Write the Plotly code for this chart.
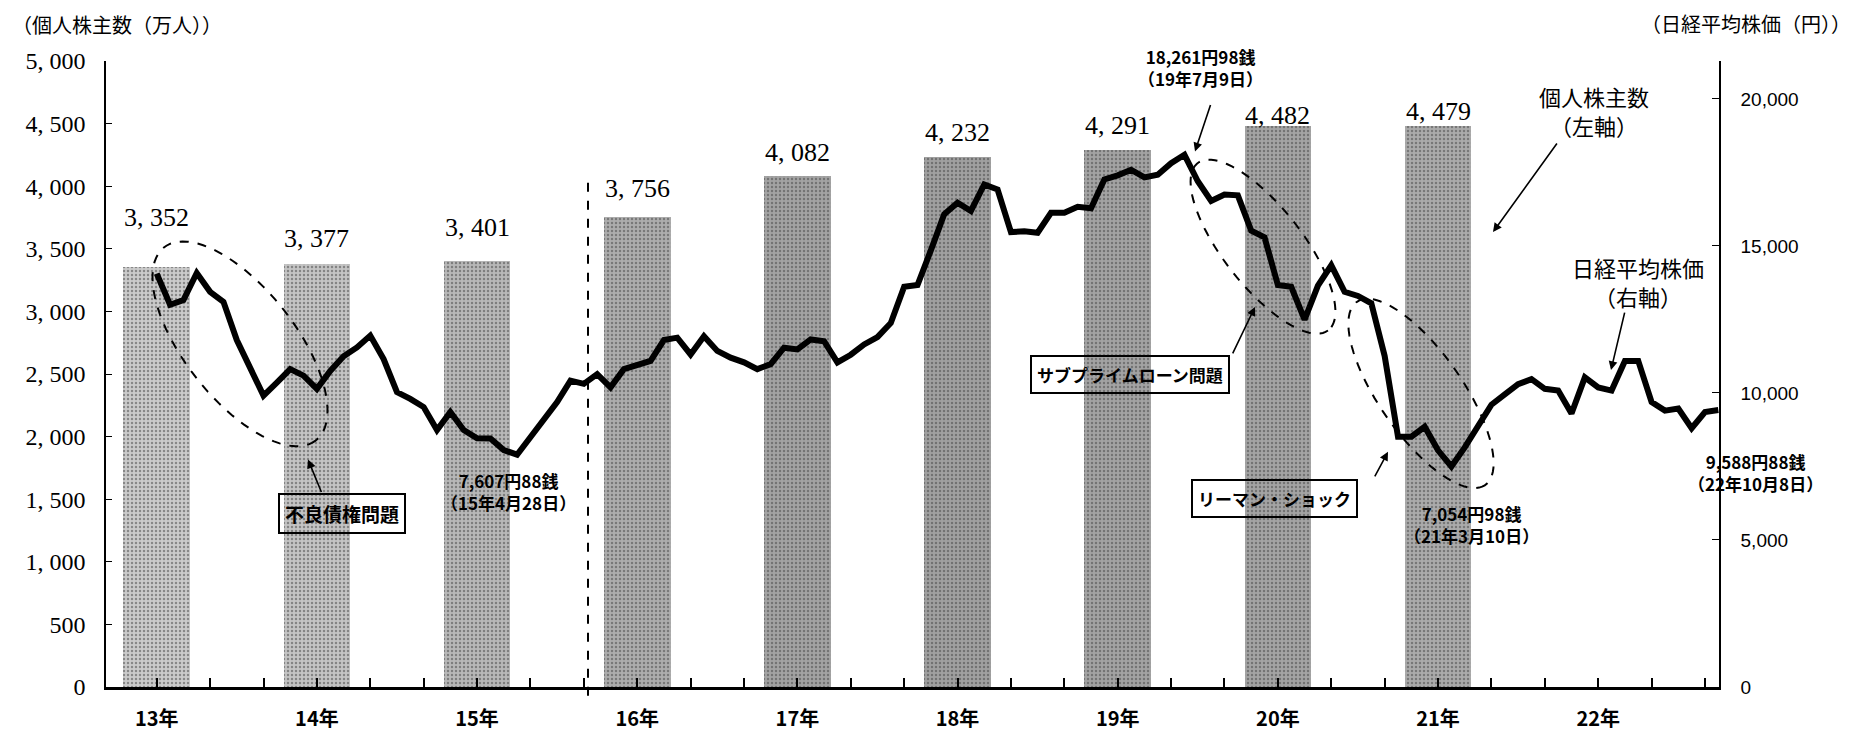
import numpy as np
import plotly.graph_objects as go

# ---------------- data ----------------
year_labels = ["13年", "14年", "15年", "16年", "17年", "18年", "19年", "20年", "21年", "22年"]
shareholders = [3352, 3377, 3401, 3756, 4082, 4232, 4291, 4482, 4479]          # 万人 (left axis)
shareholder_text = ["3, 352", "3, 377", "3, 401", "3, 756", "4, 082", "4, 232", "4, 291", "4, 482", "4, 479"]

# Nikkei average, month-end (yen), Jan .. Dec of each year (right axis)
nikkei_h13 = [14060, 13000, 13160, 14080, 13440, 13100, 11800, 10800, 9910, 10350, 10810, 10590]
nikkei_h14 = [10140, 10750, 11250, 11550, 11950, 11150, 10030, 9800, 9520, 8740, 9350, 8740]
nikkei_h15 = [8460, 8450, 8060, 7900, 8500, 9130, 9690, 10420, 10310, 10640, 10190, 10810]
nikkei_h16 = [10950, 11090, 11800, 11880, 11310, 11930, 11430, 11200, 11040, 10810, 10980, 11540]
nikkei_h17 = [11480, 11820, 11760, 11040, 11300, 11650, 11900, 12380, 13610, 13670, 14850, 16080]
nikkei_h18 = [16470, 16190, 17090, 16920, 15470, 15500, 15450, 16130, 16130, 16330, 16280, 17260]
nikkei_h19 = [17400, 17590, 17330, 17420, 17815, 18100, 17200, 16530, 16750, 16720, 15520, 15290]
nikkei_h20 = [13670, 13610, 12490, 13650, 14340, 13440, 13300, 13050, 11260, 8510, 8510, 8850]
nikkei_h21 = [8050, 7500, 8150, 8900, 9600, 9950, 10300, 10470, 10140, 10080, 9300, 10530]
nikkei_h22 = [10190, 10080, 11090, 11090, 9690, 9400, 9470, 8800, 9350, 9420]

nikkei = (nikkei_h13 + nikkei_h14 + nikkei_h15 + nikkei_h16 + nikkei_h17 +
          nikkei_h18 + nikkei_h19 + nikkei_h20 + nikkei_h21 + nikkei_h22)
months = list(range(len(nikkei)))                 # 0 = 13年1月
bar_x = [12 * i for i in range(len(shareholders))]
tick_x = [12 * i for i in range(len(year_labels))]

left_ticks = list(range(0, 5001, 500))
left_ticktext = [f"{v:,}".replace(",", ", ") for v in left_ticks]
right_ticks = [0, 5000, 10000, 15000, 20000]
right_ticktext = [f"{v:,}" for v in right_ticks]

# ---------------- layout geometry (pixels) ----------------
W, H = 1850, 736
L, R, T, B = 98, 1711, 53, 697
XMIN, XMAX = -3.8, 117.05
Y2MAX = 20000 * (B - T) / (B - 92)

bar_colors = ["#cbcbcb", "#c4c4c4", "#b8b8b8", "#adadad", "#a3a3a3",
              "#a0a0a0", "#a3a3a3", "#a4a4a4", "#ababab"]
label_gap_px = [50, 26, 34, 28, 23, 25, 24, 10, 15]   # label centre above bar top


def px2paper(px, py):
    return (px - L) / (R - L), (B - py) / (B - T)


def ellipse_path(cx, cy, a, b, theta_deg, n=90):
    th = np.deg2rad(theta_deg)
    t = np.linspace(0, 2 * np.pi, n)
    xs = cx + a * np.cos(t) * np.cos(th) - b * np.sin(t) * np.sin(th)
    ys = cy + a * np.cos(t) * np.sin(th) + b * np.sin(t) * np.cos(th)
    pts = [px2paper(x, y) for x, y in zip(xs, ys)]
    return "M " + " L ".join(f"{x:.5f},{y:.5f}" for x, y in pts) + " Z"


JP = "Noto Sans CJK JP"

fig = go.Figure()

fig.add_trace(go.Bar(
    x=bar_x, y=shareholders, width=5, yaxis="y",
    marker=dict(color=bar_colors, line=dict(width=0),
                pattern=dict(shape=".", fgcolor="#3a3a3a", size=4, solidity=0.3, fillmode="overlay")),
    showlegend=False, hoverinfo="skip",
))

fig.add_trace(go.Scatter(
    x=months, y=nikkei, yaxis="y2", mode="lines",
    line=dict(color="black", width=6),
    showlegend=False, hoverinfo="skip", cliponaxis=False,
))

annotations = []

# bar value labels
for xv, yv, txt_, gap in zip(bar_x, shareholders, shareholder_text, label_gap_px):
    annotations.append(dict(x=xv, xref="x", y=yv, yref="y", yshift=gap,
                            text=txt_, showarrow=False, yanchor="middle",
                            font=dict(family="Liberation Serif", size=26, color="black")))


def txt(px, py, text, size=16, bold=True, anchor="center", family=JP):
    xp, yp = px2paper(px, py)
    annotations.append(dict(x=xp, y=yp, xref="paper", yref="paper", text=text,
                            showarrow=False, xanchor=anchor, yanchor="middle",
                            font=dict(family=family, size=size, color="black",
                                      weight="bold" if bold else "normal")))


def box(px, py, text, size=18):
    xp, yp = px2paper(px, py)
    annotations.append(dict(x=xp, y=yp, xref="paper", yref="paper", text=text,
                            showarrow=False, xanchor="center", yanchor="middle",
                            bordercolor="black", borderwidth=2, borderpad=5, bgcolor="rgba(255,255,255,0)",
                            font=dict(family=JP, size=size, color="black", weight="bold")))


def arrow(tx, ty, hx, hy):
    xp, yp = px2paper(hx, hy)
    annotations.append(dict(x=xp, y=yp, xref="paper", yref="paper", text="",
                            showarrow=True, ax=tx - hx, ay=ty - hy,
                            arrowhead=2, arrowsize=1.1, arrowwidth=1.6, arrowcolor="black", standoff=0))


# titles
txt(2, 15, "（個人株主数（万人））", size=20, bold=False, anchor="left")
txt(1845, 14, "（日経平均株価（円））", size=20, bold=False, anchor="right")

# value callouts
txt(1192, 60, "18,261円98銭<br>（19年7月9日）", size=17)
txt(500, 496, "7,607円88銭<br>（15年4月28日）", size=17)
txt(1463, 530, "7,054円98銭<br>（21年3月10日）", size=17)
txt(1747, 476, "9,588円88銭<br>（22年10月8日）", size=17)

# series captions
txt(1586, 104, "個人株主数<br>（左軸）", size=22, bold=False)
txt(1630, 280, "日経平均株価<br>（右軸）", size=22, bold=False)

# event boxes
box(334, 519, "不良債権問題", size=19)
box(1122, 375, "サブプライムローン問題", size=17)
box(1266, 503, "リーマン・ショック", size=17)

# arrows
arrow(314, 497, 300, 463)
arrow(1203, 98, 1187, 146)
arrow(1224, 354, 1247, 306)
arrow(1366, 481, 1380, 455)
arrow(1550, 139, 1485, 229)
arrow(1617, 312, 1603, 371)

shapes = []
for cx, cy, a, b, th in [(232, 344, 125, 56, 53), (1255, 244, 108, 40, 53), (1413, 395, 114, 42, 56)]:
    shapes.append(dict(type="path", path=ellipse_path(cx, cy, a, b, th), xref="paper", yref="paper",
                       line=dict(color="black", width=2, dash="dash"), layer="above"))

# dashed separator line
x_sep = XMIN + (580 - L) / (R - L) * (XMAX - XMIN)
shapes.append(dict(type="line", xref="x", yref="paper", x0=x_sep, x1=x_sep,
                   y0=px2paper(0, 706)[1], y1=px2paper(0, 173)[1],
                   line=dict(color="black", width=2, dash="dash")))

fig.update_layout(
    width=W, height=H,
    margin=dict(l=L, r=W - R, t=T, b=H - B, pad=0),
    paper_bgcolor="white", plot_bgcolor="white",
    bargap=0, showlegend=False,
    annotations=annotations, shapes=shapes,
    xaxis=dict(range=[XMIN, XMAX], tickmode="array", tickvals=tick_x, ticktext=year_labels,
               ticks="inside", ticklen=9, tickwidth=1.5, tickcolor="black",
               minor=dict(tickmode="linear", tick0=0, dtick=4, ticks="inside", ticklen=9,
                          tickwidth=1.5, tickcolor="black"),
               showline=True, linecolor="black", linewidth=2.5, showgrid=False, zeroline=False,
               ticklabelstandoff=12,
               tickfont=dict(family=JP, size=20, color="black", weight="bold")),
    yaxis=dict(range=[0, 5000], tickmode="array", tickvals=left_ticks, ticktext=left_ticktext,
               ticks="inside", ticklen=6, tickcolor="black", showline=True, linecolor="black",
               linewidth=1.5, showgrid=False, zeroline=False, ticklabelstandoff=14,
               tickfont=dict(family="Liberation Serif", size=24, color="black")),
    yaxis2=dict(range=[0, Y2MAX], overlaying="y", side="right", tickmode="array",
                tickvals=right_ticks, ticktext=right_ticktext,
                ticks="inside", ticklen=7, tickcolor="black", showline=True, linecolor="black",
                linewidth=1.5, showgrid=False, zeroline=False, ticklabelstandoff=16,
                tickfont=dict(family="Liberation Sans", size=19, color="black")),
)

fig.write_html("out.html")
